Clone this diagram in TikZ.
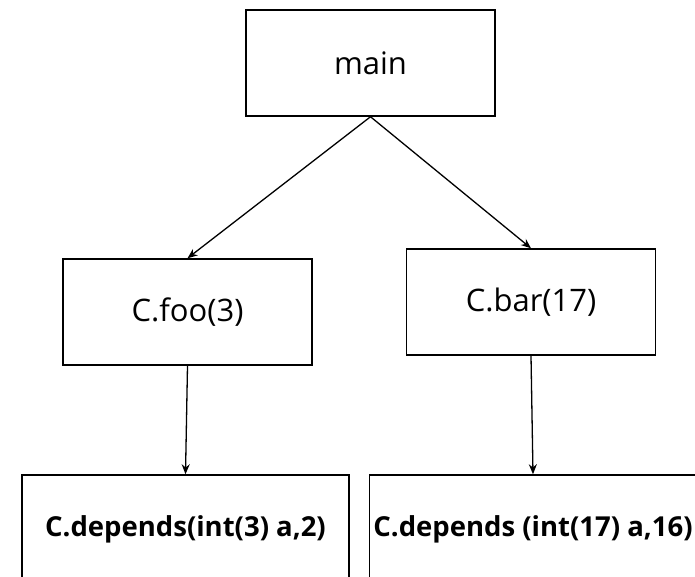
\documentclass[tikz,border=0pt]{standalone}
\usepackage{fontspec}
\setmainfont{Open Sans}
\usetikzlibrary{arrows.meta}

\begin{document}
\begin{tikzpicture}[>={Stealth[length=10pt,width=8pt]},auto,node distance=217pt,
  box/.style={draw,line width=1.5pt,minimum width=249pt,minimum height=106pt,inner sep=0pt,font=\fontsize{31}{36}\selectfont},
  callbox/.style={draw,line width=1.5pt,minimum width=327pt,minimum height=108pt,inner sep=0pt,font=\bfseries\fontsize{27.5}{32}\selectfont},
  link/.style={draw,->,line width=1.3pt}]

\clip (0,0) rectangle (695pt,-577pt);

\node[box]   (main)  at (370.5pt,-63pt)      				{main};
\node[box]   (foo)[below of=main,xshift=-183pt,yshift=-32pt]      	{C.foo(3)};
\node[box]   (bar)[below of=main,xshift=160.5pt,yshift=-22pt]      	{C.bar(17)};
\node[callbox]   (dep1)[below of=foo,xshift=-2pt]      	{C.depends(int(3) a,2)};
\node[callbox]   (dep2)[below of=bar,xshift=2pt,yshift=-10pt]      	{C.depends (int(17) a,16)};

	\path (main.south)  edge[link]	  	(foo.north)
									edge[link]	  	(bar.north)
						(foo.south)  edge[link]	  	(dep1.north)
						(bar.south)  edge[link]	  	(dep2.north);

\end{tikzpicture}
\end{document}
